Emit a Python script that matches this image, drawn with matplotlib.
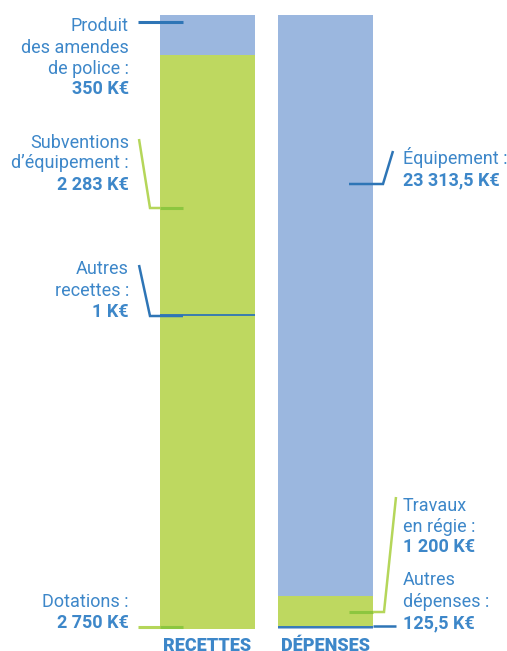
import numpy as np
import matplotlib
matplotlib.use("Agg")
import matplotlib.pyplot as plt

# données (K€)
categories = ["RECETTES", "DÉPENSES"]
recettes_labels = ["Dotations", "Autres recettes", "Subventions d'équipement", "Produit des amendes de police"]
recettes_values = [2750, 1, 2283, 350]
depenses_labels = ["Autres dépenses", "Travaux en régie", "Équipement"]
depenses_values = [125.5, 1200, 23313.5]

BLUE = "#9bb7df"; GREEN = "#bed860"
TXT = "#3d87c9"; LBLUE = "#2e75b6"; LGREEN = "#b5d65a"; DGREEN = "#8cc63f"
rec_colors = [GREEN, BLUE, GREEN, BLUE]
dep_colors = [BLUE, GREEN, BLUE]

plt.rcParams["font.family"] = ["Roboto", "DejaVu Sans"]
FS = 13

fig = plt.figure(figsize=(5.07, 6.51), dpi=100)
ax = fig.add_axes([0, 0, 1, 1])
ax.set_xlim(0, 507)
# bas des barres à y=629px, haut à y=15px
Y0, H = 629, 614
ax.set_ylim((Y0 - 651) / H * 100, Y0 / H * 100)
ax.axis("off")

def py(p):  # pixel (haut = 0) -> coordonnée données
    return (Y0 - p) / H * 100

xs = [207.5, 325.5]; W = 95
for x, vals, cols in [(xs[0], recettes_values, rec_colors), (xs[1], depenses_values, dep_colors)]:
    pct = np.array(vals) / np.sum(vals) * 100
    bottom = 0
    for v, c in zip(pct, cols):
        ax.bar(x, v, W, bottom=bottom, color=c, linewidth=0)
        if v < 1:  # segment trop fin : trait visible
            ax.plot([x - W / 2, x + W / 2], [bottom + v / 2] * 2, color=LBLUE, lw=1.3,
                    solid_capstyle="butt")
        bottom += v

# traits de rappel
def lead(xp, yp, c, lw=1.8):
    ax.plot(xp, [py(v) for v in yp], color=c, lw=lw, solid_capstyle="butt", solid_joinstyle="miter")

lead([138, 183], [22, 22], LBLUE, 2.2)
lead([139, 150, 160], [139, 208, 208], LGREEN)
lead([160, 183], [208, 208], DGREEN, 2.2)
lead([139, 150, 183], [265, 316, 316], LBLUE)
lead([138, 160], [627, 627], LGREEN, 2.2)
lead([160, 183], [627, 627], DGREEN, 2.2)
lead([349, 383, 393], [184, 184, 151], LBLUE)
lead([349, 373], [612, 612], DGREEN, 2.2)
lead([373, 384, 396], [612, 612, 497], LGREEN)
lead([373, 396], [626, 626], LBLUE)

def block(x, ha, lines, bold_line, baselines):
    for t, b in zip(lines + [bold_line], baselines):
        ax.text(x, py(b), t, ha=ha, va="baseline", color=TXT, fontsize=FS,
                fontweight="bold" if t == bold_line else "normal")

block(129, "right", ["Produit", "des amendes", "de police :"], "350 K€", [31, 53, 74, 94])
block(129, "right", ["Subventions", "d’équipement :"], "2 283 K€", [148, 168, 190])
block(129, "right", ["Autres", "recettes :"], "1 K€", [274, 296, 317])
block(129, "right", ["Dotations :"], "2 750 K€", [607, 628])
block(403, "left", ["Équipement :"], "23 313,5 K€", [164, 185])
block(403, "left", ["Travaux", "en régie :"], "1 200 K€", [511, 532, 552])
block(403, "left", ["Autres", "dépenses :"], "125,5 K€", [585, 607, 628])

for x, c in zip(xs, categories):
    ax.text(x, py(637), c, ha="center", va="top", color=TXT, fontsize=13, fontweight="heavy")

fig.savefig("out.png", dpi=100)
